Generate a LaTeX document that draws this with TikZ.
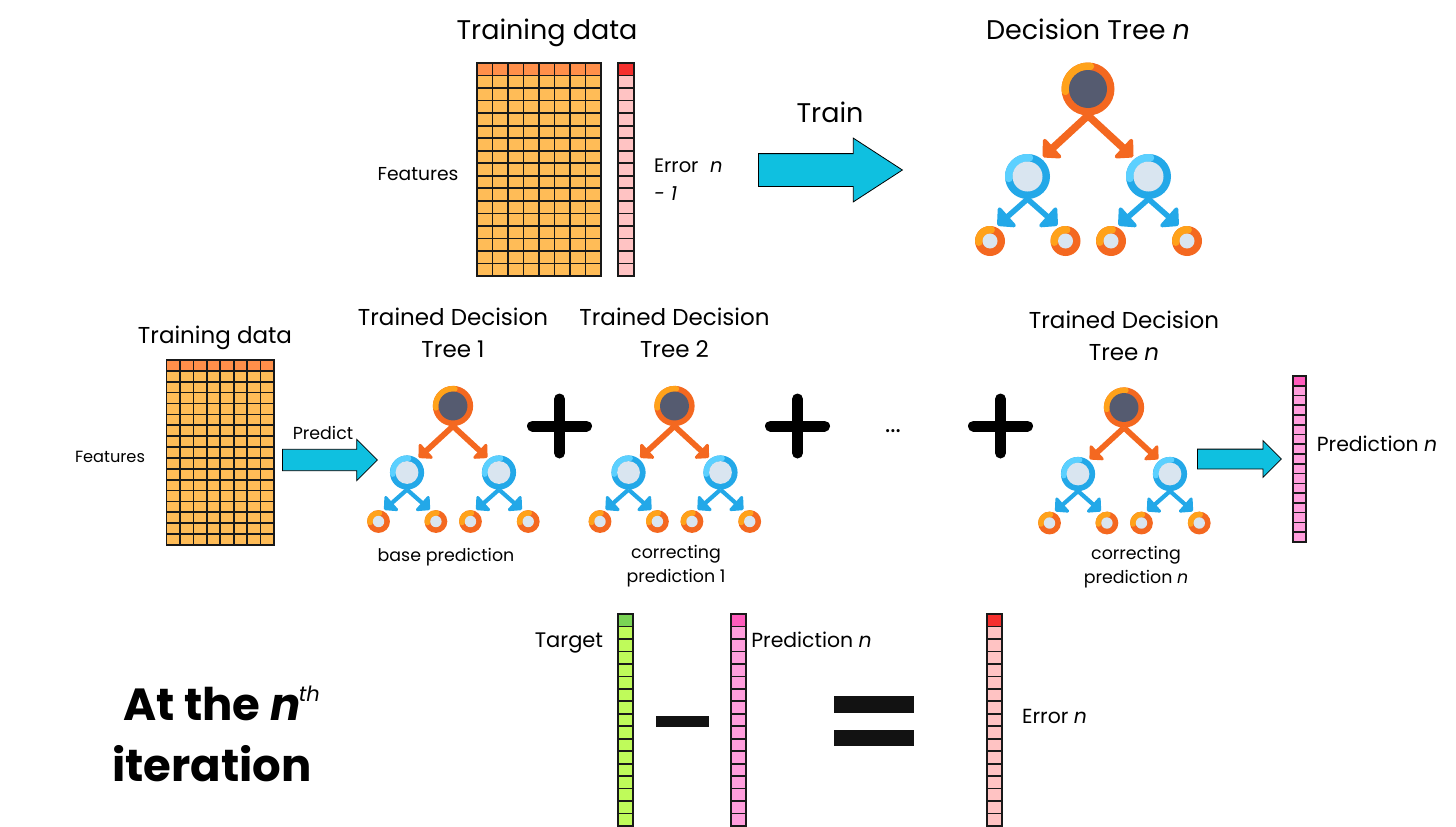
\documentclass[tikz,border=0pt]{standalone}
\usepackage{fontspec}
\setmainfont{Poppins}
\usetikzlibrary{arrows.meta,calc,shapes.arrows}

\definecolor{treeorange}{HTML}{F46820}
\definecolor{treeamber}{HTML}{FFA21A}
\definecolor{treeslate}{HTML}{555B70}
\definecolor{treeblue}{HTML}{23A8E8}
\definecolor{treesky}{HTML}{5BD0FF}
\definecolor{treepale}{HTML}{D9E5F0}
\definecolor{arrowcyan}{HTML}{0FC0E0}
\definecolor{datahead}{HTML}{FF8F4A}
\definecolor{datacell}{HTML}{FFBC57}
\definecolor{errorhead}{HTML}{F5302E}
\definecolor{errorcell}{HTML}{FFC3C3}
\definecolor{targethead}{HTML}{7AD455}
\definecolor{targetcell}{HTML}{BFFB5A}
\definecolor{predhead}{HTML}{FF5CBC}
\definecolor{predcell}{HTML}{FF9EDC}

\tikzset{
    label10/.style={font=\fontsize{17.4}{24}\selectfont,align=center,inner sep=0pt},
    label12/.style={font=\fontsize{20.4}{28}\selectfont,align=left,inner sep=0pt},
    label15/.style={font=\fontsize{23}{32}\selectfont,align=center,inner sep=0pt},
    label18/.style={font=\fontsize{27}{32}\selectfont,align=center,inner sep=0pt},
    cellline/.style={draw=black!90,line width=1.7pt},
    blockarrow/.style={single arrow,draw=black,line width=0.8pt,fill=arrowcyan,inner xsep=0pt,anchor=tail},
    ring/.style={circle,inner sep=0pt,outer sep=0pt,transform shape},
    plussign/.style={line width=11pt,line cap=round},
    barsign/.style={fill=black!93}
}

% x, y, cell width, cell height, columns, head colour, cell colour
\newcommand{\cellgrid}[7]{
    \foreach \c in {1,...,#5}{
        \foreach \r in {1,...,17}{
            \ifnum\r=1 \def\cellcol{#6}\else\def\cellcol{#7}\fi
            \filldraw[cellline,fill=\cellcol] ({#1+(\c-1)*#3},{#2+(\r-1)*#4}) rectangle ++(#3,#4);
        }
    }
}

% prefix, outer colour, arc colour, inner colour, outer radius, inner radius
\newcommand{\treenode}[6]{
    \node[ring,fill=#2,minimum size=#5*2pt] (#1) at (0,0) {};
    \draw[#3,line width=\treescale*(#5-#6)*1pt,line cap=round]
        ($(#1.center)+(-84:{(#5+#6)/2})$) arc (-84:-186:{(#5+#6)/2});
    \node[ring,fill=#4,minimum size=#6*2pt] (#1in) at (#1) {};
}

% name, x, y, scale
\newcommand{\dectree}[4]{
    \def\treescale{#4}
    \pgfmathsetmacro{\tipw}{#4*30}
    \pgfmathsetmacro{\tipl}{#4*15}
    \pgfmathsetmacro{\bigw}{#4*7.5}
    \pgfmathsetmacro{\smallw}{#4*5.5}
    \begin{scope}[shift={(#2,#3)},scale=#4]
        % leaves first, then the inner nodes and the root
        \foreach \nm/\lx in {a/-98,b/-22.5,c/23,d/99}{
            \begin{scope}[shift={(\lx,152)}]
                \treenode{#1\nm}{treeorange}{treeamber}{treepale}{15}{7.5}
            \end{scope}
        }
        \begin{scope}[shift={(-60.5,87.5)}]
            \treenode{#1l}{treeblue}{treesky}{treepale}{22.5}{15}
        \end{scope}
        \begin{scope}[shift={(60.5,87.5)}]
            \treenode{#1r}{treeblue}{treesky}{treepale}{22.5}{15}
        \end{scope}
        \treenode{#1root}{treeorange}{treeamber}{treeslate}{26.5}{19}
        % free ends of the arrows
        \coordinate (#1tipl) at (-45,68);
        \coordinate (#1tipr) at (45,68);
        \coordinate (#1tipa) at (-90.5,136.5);
        \coordinate (#1tipb) at (-30.5,136.5);
        \coordinate (#1tipc) at (30.5,136.5);
        \coordinate (#1tipd) at (90.5,136.5);
        \foreach \tip in {tipl,tipr}
            \draw[treeorange,line width=\bigw pt,-{Triangle[width=\tipw pt,length=\tipl pt,round]}]
                (#1root.south) -- (#1\tip);
        \draw[treeblue,line width=\smallw pt,-{Triangle[width=\tipw pt,length=\tipl pt,round]}] (#1l.south) -- (#1tipa);
        \draw[treeblue,line width=\smallw pt,-{Triangle[width=\tipw pt,length=\tipl pt,round]}] (#1l.south) -- (#1tipb);
        \draw[treeblue,line width=\smallw pt,-{Triangle[width=\tipw pt,length=\tipl pt,round]}] (#1r.south) -- (#1tipc);
        \draw[treeblue,line width=\smallw pt,-{Triangle[width=\tipw pt,length=\tipl pt,round]}] (#1r.south) -- (#1tipd);
    \end{scope}
}

\begin{document}
\begin{tikzpicture}[x=1pt,y=-1pt]
    \useasboundingbox (0,0) rectangle (1456,827);

    % Top row: training step
    \node[label18] (traindata) at (547,33) {Training data};
    \cellgrid{477}{63}{15.5}{12.53}{8}{datahead}{datacell}
    \cellgrid{618}{63}{16}{12.53}{1}{errorhead}{errorcell}
    \node[label12,font=\fontsize{18.7}{28}\selectfont] (feat) at (418,174) {Features};
    \node[label12,font=\fontsize{19.5}{28}\selectfont,anchor=west] (errprev) at (654,180) {Error\,\, \textit{n}\\\textit{- 1}};
    \node[label18] (trainlabel) at (830,112) {Train};
    \node[blockarrow,inner ysep=16pt,minimum width=63pt,minimum height=144pt,single arrow head extend=15.5pt,
        single arrow tip angle=66] (trainarrow) at (758,170) {};
    \node[label18] (treetitle) at (1088,29) {Decision Tree \textit{n}};
    \dectree{top}{1088}{89}{1}

    % Middle row: the ensemble
    \node[label15] (middata) at (215,338) {Training data};
    \cellgrid{166.5}{360}{13.44}{10.88}{8}{datahead}{datacell}
    \node[label10,font=\fontsize{16.2}{24}\selectfont] (midfeat) at (110,457) {Features};
    \node[label10] (predict) at (323,433) {Predict};
    \node[blockarrow,inner ysep=10.3pt,minimum width=40.5pt,minimum height=95pt,single arrow head extend=10pt] (midarrow) at (282,460) {};

    \node[label15] (title1) at (453,333) {Trained Decision\\Tree 1};
    \dectree{one}{453}{406}{0.76}
    \node[label10] (cap1) at (446,557) {base prediction};

    \node[label15] (title2) at (674.5,333) {Trained Decision\\Tree 2};
    \dectree{two}{674.5}{406}{0.76}
    \node[label10] (cap2) at (676,566) {correcting\\prediction 1};

    \node[label10,font=\fontsize{25}{24}\selectfont] (dots) at (893,431) {...};

    \node[label15] (title3) at (1124,336) {Trained Decision\\Tree \textit{n}};
    \dectree{last}{1124}{407.5}{0.76}
    \node[label10] (cap3) at (1136,567) {correcting\\prediction \textit{n}};

    \foreach \px in {559.5,797.5,1000.5}{
        \draw[plussign] (\px-27,426) -- (\px+27,426);
        \draw[plussign] (\px,399) -- (\px,453);
    }

    \node[blockarrow,inner ysep=9.5pt,minimum width=36pt,minimum height=84pt,single arrow head extend=8.5pt] (lastarrow) at (1197,459) {};
    \cellgrid{1293}{376}{13}{9.76}{1}{predhead}{predcell}
    \node[label12] (predright) at (1377,444) {Prediction \textit{n}};

    % Bottom row: error of the iteration
    \node[font=\fontsize{45}{60}\selectfont\bfseries,inner sep=0pt,anchor=base west] (iter1) at (123,720)
        {At the\kern10pt\textit{n}\kern-2pt\raisebox{19pt}{\fontsize{21}{21}\selectfont\mdseries\textit{th}}};
    \node[font=\fontsize{45}{60}\selectfont\bfseries,inner sep=0pt,anchor=base west] (iter2) at (112,781) {iteration};

    \node[label12,font=\fontsize{21}{28}\selectfont] (target) at (569,643) {Target};
    \cellgrid{618}{614}{15}{12.47}{1}{targethead}{targetcell}
    \cellgrid{731}{614}{15}{12.47}{1}{predhead}{predcell}
    \node[label12] (predbottom) at (811.5,640) {Prediction \textit{n}};
    \fill[barsign] (655.5,716) rectangle (708.5,727);
    \fill[barsign] (834,696) rectangle (914,712.5);
    \fill[barsign] (834,729.5) rectangle (914,746);
    \cellgrid{987}{614}{15}{12.47}{1}{errorhead}{errorcell}
    \node[label12] (errnow) at (1054.5,716) {Error \textit{n}};
\end{tikzpicture}
\end{document}
